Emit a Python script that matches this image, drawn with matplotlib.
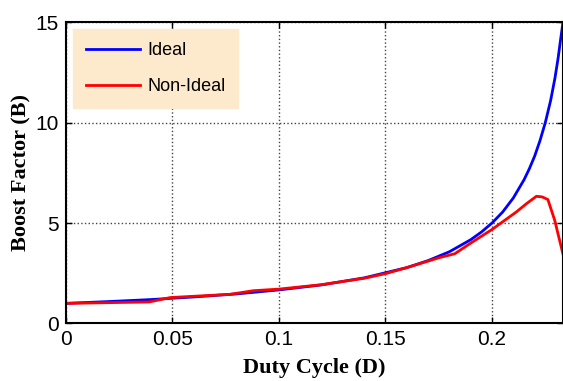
import matplotlib
matplotlib.use("Agg")
import matplotlib.pyplot as plt

# duty cycle vs boost factor
d_ideal = [0, 0.02, 0.04, 0.06, 0.08, 0.1, 0.12, 0.14, 0.16, 0.17, 0.18, 0.19,
           0.195, 0.2, 0.205, 0.21, 0.215, 0.2175, 0.22, 0.2225, 0.225, 0.2275,
           0.2295, 0.231, 0.232, 0.2333]
b_ideal = [1.0, 1.09, 1.19, 1.32, 1.47, 1.67, 1.92, 2.27, 2.78, 3.13, 3.57, 4.17,
           4.55, 5.0, 5.55, 6.25, 7.15, 7.7, 8.33, 9.1, 10.0, 11.1,
           12.2, 13.2, 14.0, 15.0]

d_real = [0, 0.039, 0.049, 0.077, 0.088, 0.1, 0.12, 0.14, 0.15, 0.16, 0.1754,
          0.1825, 0.19, 0.2, 0.2114, 0.216, 0.2208, 0.2235, 0.2262, 0.2294, 0.2333]
b_real = [1.0, 1.07, 1.29, 1.45, 1.63, 1.71, 1.93, 2.25, 2.48, 2.78, 3.28,
          3.47, 4.0, 4.68, 5.55, 5.95, 6.33, 6.3, 6.17, 5.14, 3.45]

x_ticks = [0, 0.05, 0.1, 0.15, 0.2]
x_labels = ["0", "0.05", "0.1", "0.15", "0.2"]
y_ticks = [0, 5, 10, 15]

plt.rcParams['font.family'] = ['Liberation Sans', 'DejaVu Sans']

fig = plt.figure(figsize=(5.63, 3.81), dpi=100)
ax = fig.add_axes([0.117, 0.151, 0.883, 0.791])

ax.plot(d_ideal, b_ideal, color='#0000ff', lw=2.0, label='Ideal')
ax.plot(d_real, b_real, color='#ff0000', lw=2.0, label='Non-Ideal')

ax.set_xlim(0, 0.2333)
ax.set_ylim(0, 15)
ax.set_xticks(x_ticks)
ax.set_xticklabels(x_labels)
ax.set_yticks(y_ticks)
ax.tick_params(direction='in', top=True, right=True, labelsize=15, length=4, width=1, pad=5)
for s in ax.spines.values():
    s.set_linewidth(1.5)

ax.grid(True, linestyle=':', color='#444444', linewidth=1.0)

ax.set_xlabel('Duty Cycle (D)', family='Liberation Serif', fontweight='bold', fontsize=16, labelpad=6)
ax.set_ylabel('Boost Factor (B)', family='Liberation Serif', fontweight='bold', fontsize=16, labelpad=3)

leg = ax.legend(loc='upper left', fontsize=13, frameon=True, fancybox=False,
                handlelength=3.0, handletextpad=0.4, borderpad=0.7, labelspacing=1.05,
                borderaxespad=0.4)
leg.get_frame().set_facecolor('#fde9cc')
leg.get_frame().set_edgecolor('#fde9cc')
leg.get_frame().set_alpha(1)

fig.savefig('out.png', dpi=100)
